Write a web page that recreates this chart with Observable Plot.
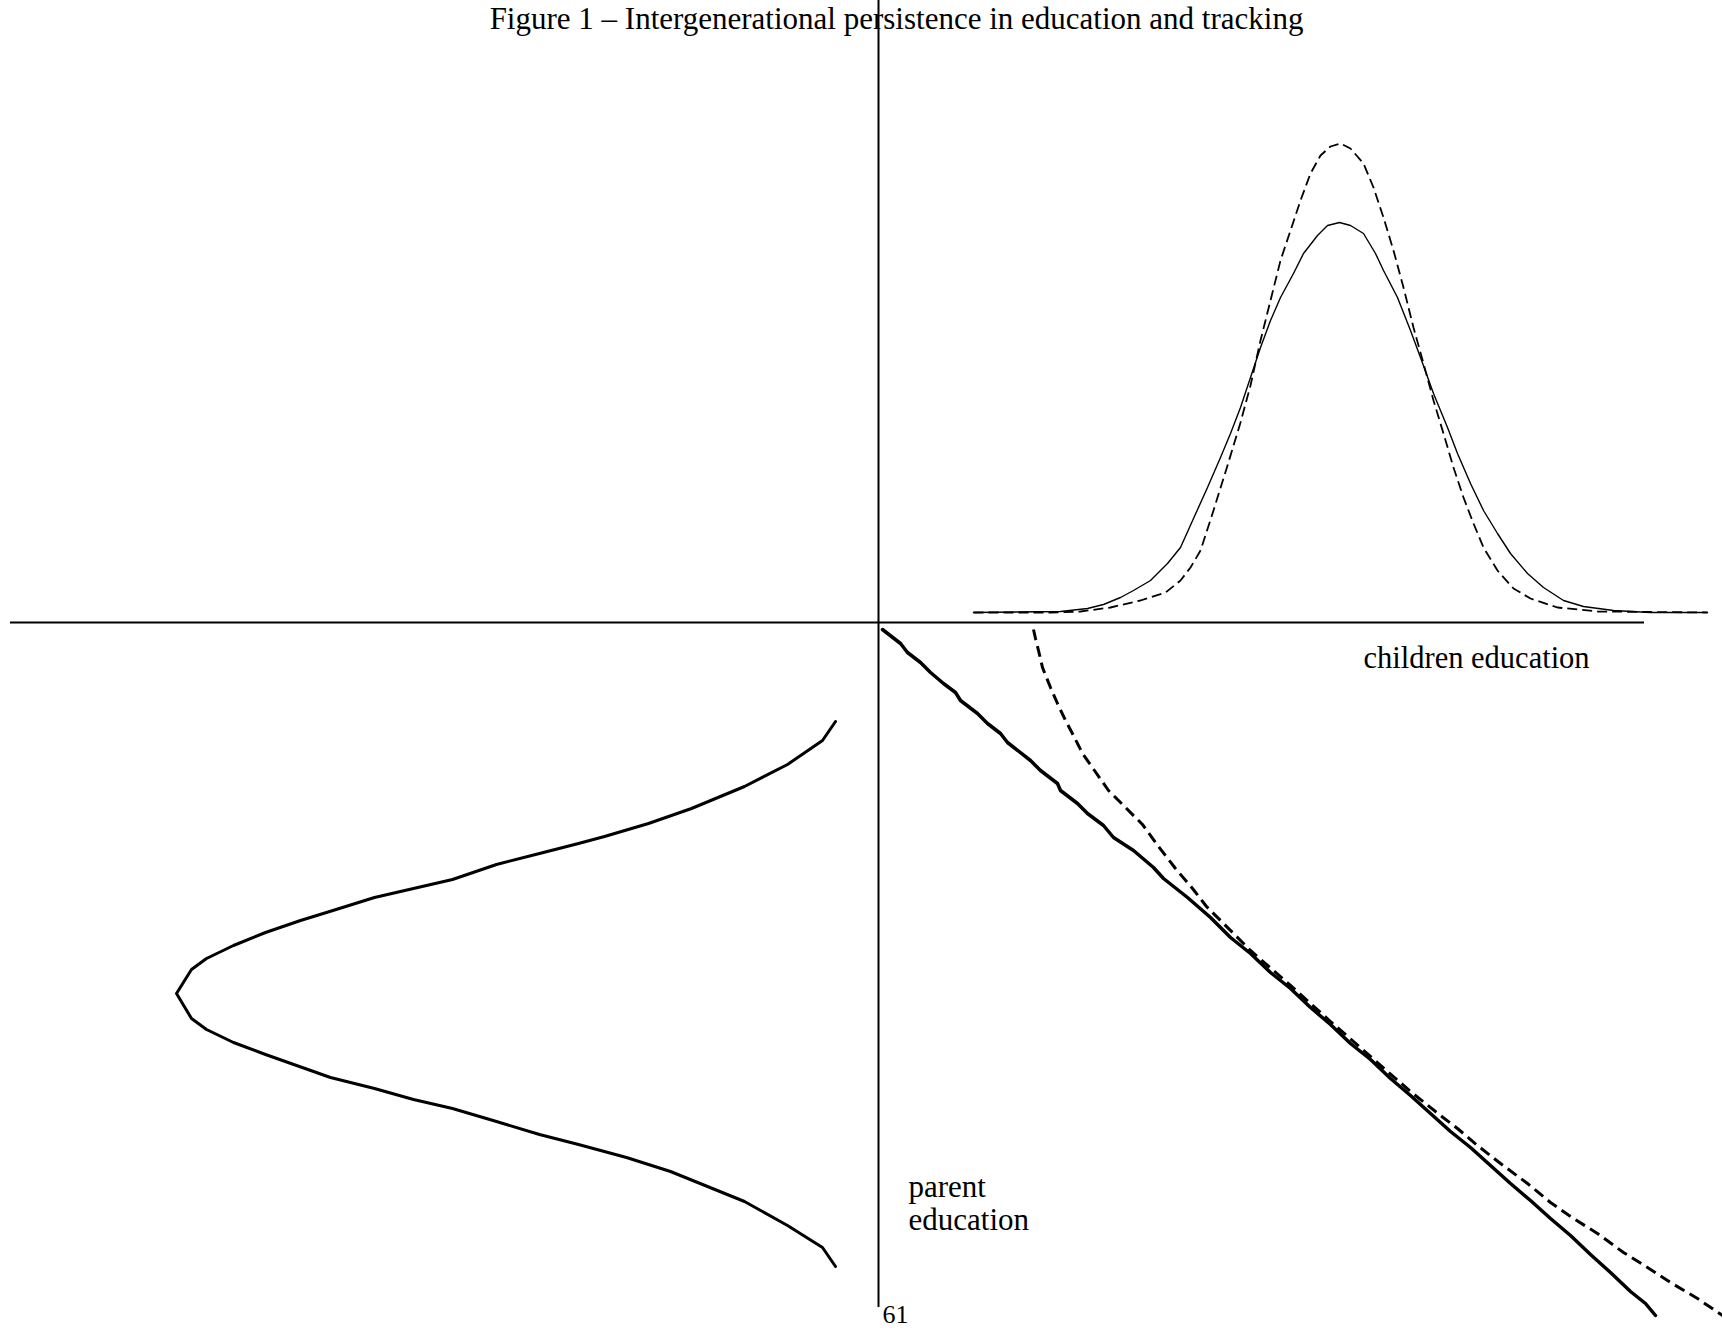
<!DOCTYPE html>
<html>
<head>
<meta charset="utf-8">
<script src="https://cdn.jsdelivr.net/npm/d3@7"></script>
<script src="https://cdn.jsdelivr.net/npm/@observablehq/plot@0.6"></script>
<style>
  html, body { margin: 0; padding: 0; background: #fff; }
  #chart svg { display: block; }
</style>
</head>
<body>
<div id="chart"></div>
<script>
// ---- Data (units: origin at the axes crossing; parent education grows downward) ----
const titleText = "Figure 1 – Intergenerational persistence in education and tracking";
const xLabel = "children education";
const yLabel = "parent\neducation";
const pageNumber = "61";

// Children education density, wider distribution (solid)
const childEduSolid = [0.95,1.82,2.09,2.25,2.42,2.55,2.72,2.89,3.02,3.15,3.29,3.42,3.52,3.62,3.72,3.82,3.92,4.02,4.15,4.25,4.39,4.49,4.61,4.72,4.85,4.97,5.05,5.19,5.32,5.42,5.55,5.69,5.79,5.92,6.05,6.19,6.32,6.49,6.65,6.85,7.05,7.35,7.72,8.29];
const densitySolid  = [0.10,0.11,0.14,0.18,0.25,0.32,0.42,0.59,0.75,1.04,1.35,1.65,1.89,2.15,2.45,2.75,3.02,3.25,3.49,3.69,3.87,3.97,4.00,3.97,3.89,3.69,3.52,3.25,2.92,2.65,2.29,1.95,1.69,1.39,1.12,0.89,0.69,0.49,0.35,0.22,0.16,0.12,0.10,0.10];

// Children education density, with tracking (dashed)
const childEduDashed = [0.95,1.72,2.02,2.32,2.62,2.87,3.02,3.12,3.22,3.35,3.49,3.62,3.72,3.82,3.92,4.02,4.12,4.22,4.32,4.42,4.52,4.62,4.72,4.85,4.95,5.05,5.15,5.25,5.35,5.45,5.55,5.65,5.75,5.85,5.95,6.05,6.19,6.35,6.52,6.79,7.19,8.29];
const densityDashed  = [0.10,0.10,0.11,0.15,0.22,0.30,0.42,0.55,0.72,1.12,1.57,2.00,2.37,2.82,3.22,3.62,3.92,4.22,4.49,4.67,4.76,4.79,4.74,4.59,4.35,4.05,3.72,3.35,2.95,2.59,2.22,1.89,1.55,1.25,0.99,0.75,0.52,0.34,0.24,0.15,0.11,0.10];

// Parent education density (drawn to the left of the vertical axis)
const parentEduLevels  = [0.99,1.18,1.42,1.64,1.86,2.01,2.14,2.21,2.31,2.42,2.57,2.66,2.75,2.90,2.98,3.10,3.23,3.36,3.47,3.71,3.96,4.07,4.20,4.32,4.55,4.66,4.77,4.86,4.99,5.12,5.22,5.35,5.49,5.79,6.03,6.25,6.44];
const parentDensity    = [0.43,0.56,0.91,1.34,1.87,2.30,2.74,3.00,3.39,3.82,4.26,4.65,5.04,5.52,5.78,6.13,6.45,6.72,6.87,7.02,6.87,6.72,6.45,6.13,5.48,5.04,4.65,4.26,3.82,3.39,3.00,2.52,2.08,1.34,0.91,0.56,0.43];

// Mapping parent education -> children education, no tracking (solid)
const mapSolidChild  = [0.04,0.22,0.29,0.42,0.52,0.65,0.77,0.82,0.99,1.09,1.22,1.29,1.52,1.62,1.79,1.82,1.99,2.09,2.25,2.35,2.55,2.75,2.85,3.09,3.32,3.52,3.72,3.92,4.12,4.32,4.52,4.72,4.92,5.12,5.32,5.52,5.72,5.92,6.12,6.32,6.52,6.72,6.92,7.12,7.32,7.52,7.67,7.77];
const mapSolidParent = [0.07,0.21,0.30,0.40,0.50,0.61,0.70,0.78,0.91,1.01,1.11,1.20,1.38,1.48,1.61,1.68,1.81,1.91,2.03,2.15,2.28,2.45,2.56,2.75,2.95,3.15,3.31,3.50,3.66,3.85,4.02,4.21,4.37,4.56,4.73,4.91,5.09,5.25,5.43,5.61,5.78,5.96,6.13,6.32,6.50,6.69,6.81,6.93];

// Mapping parent education -> children education, with tracking (dashed)
const mapDashedChild  = [1.55,1.57,1.60,1.64,1.72,1.79,1.87,1.96,2.04,2.16,2.30,2.46,2.64,2.80,2.97,3.14,3.28,3.44,3.72,4.12,4.52,4.92,5.32,5.62,5.79,5.99,6.22,6.49,6.72,6.95,7.19,7.45,7.69,7.92,8.19,8.44];
const mapDashedParent = [0.07,0.16,0.28,0.45,0.65,0.81,0.98,1.15,1.31,1.48,1.68,1.84,2.02,2.24,2.46,2.66,2.84,3.00,3.28,3.63,3.99,4.34,4.69,4.93,5.06,5.23,5.41,5.61,5.80,5.96,6.11,6.30,6.45,6.60,6.76,6.93];

// Axis extents (data units)
const hAxisExtent = [-8.68, 7.66];
const vAxisExtent = [-6.85, 6.22];

// ---- Build tables ----
const zip = (a, b, ka, kb) => a.map((v, i) => ({[ka]: v, [kb]: b[i]}));
const topSolid   = zip(childEduSolid, densitySolid, "edu", "dens");
const topDashed  = zip(childEduDashed, densityDashed, "edu", "dens");
const leftDens   = zip(parentEduLevels, parentDensity, "edu", "dens");
const mapSolid   = zip(mapSolidChild, mapSolidParent, "child", "parent");
const mapDashed  = zip(mapDashedChild, mapDashedParent, "child", "parent");

const font = "'Liberation Serif', 'DejaVu Serif', serif";

const chart = Plot.plot({
  width: 1722,
  height: 1331,
  margin: 0,
  x: {domain: [-8.78, 8.44], axis: null},
  y: {domain: [-7.09, 6.22], axis: null},
  style: {fontFamily: font, background: "white", color: "black"},
  marks: [
    Plot.ruleY([0], {x1: hAxisExtent[0], x2: hAxisExtent[1], stroke: "black", strokeWidth: 2}),
    Plot.ruleX([0], {y1: vAxisExtent[0], y2: vAxisExtent[1], stroke: "black", strokeWidth: 2}),
    Plot.line(topSolid, {x: "edu", y: "dens", stroke: "black", strokeWidth: 1.4}),
    Plot.line(topDashed, {x: "edu", y: "dens", stroke: "black", strokeWidth: 1.8, strokeDasharray: "10,5", strokeLinecap: "butt"}),
    Plot.line(leftDens, {x: d => -d.dens, y: d => -d.edu, stroke: "black", strokeWidth: 3}),
    Plot.line(mapSolid, {x: "child", y: d => -d.parent, stroke: "black", strokeWidth: 3.5}),
    Plot.line(mapDashed, {x: "child", y: d => -d.parent, stroke: "black", strokeWidth: 3, strokeDasharray: "11,6", strokeLinecap: "butt"}),
    Plot.text([titleText], {frameAnchor: "top", dx: 35, dy: 6, lineAnchor: "top", fontSize: 31, fill: "black"}),
    Plot.text([xLabel], {x: 4.85, y: -0.24, textAnchor: "start", lineAnchor: "top", fontSize: 30.5, fill: "black"}),
    Plot.text([yLabel], {x: 0.30, y: -5.51, textAnchor: "start", lineAnchor: "top", fontSize: 31, lineHeight: 1.07, fill: "black"}),
    Plot.text([pageNumber], {x: 0.04, y: -6.82, textAnchor: "start", lineAnchor: "top", fontSize: 26, fill: "black"})
  ]
});
document.getElementById("chart").append(chart);
</script>
</body>
</html>
